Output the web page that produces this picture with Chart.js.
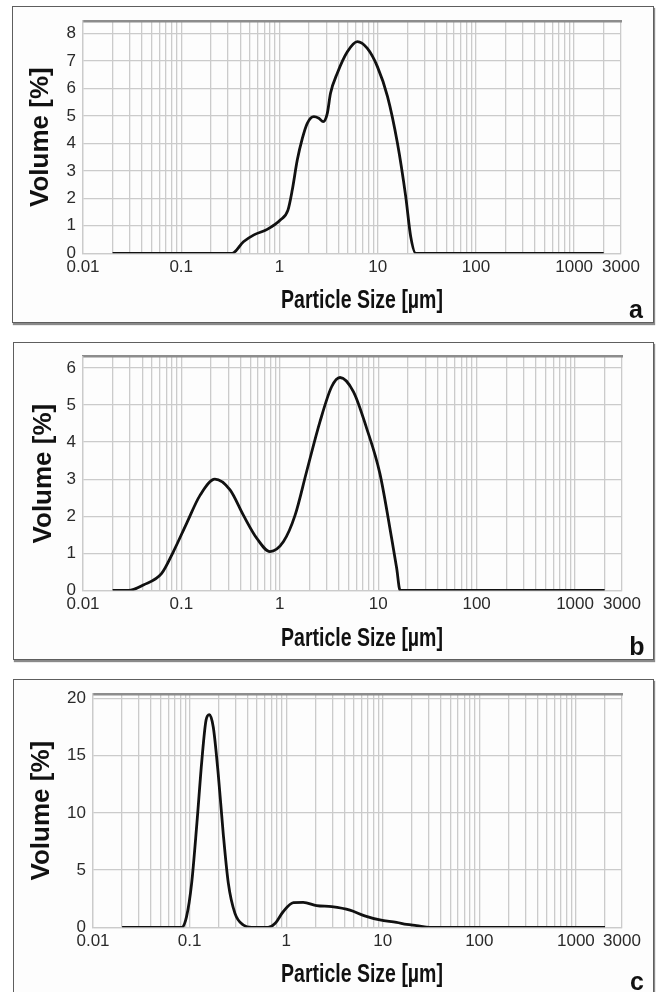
<!DOCTYPE html>
<html>
<head>
<meta charset="utf-8">
<script src="https://cdn.jsdelivr.net/npm/chart.js@4.4.1/dist/chart.umd.min.js"></script>
<style>
  html, body { margin: 0; padding: 0; background: #ffffff; }
  body { width: 660px; height: 992px; position: relative; overflow: hidden; }
  .panel { position: absolute; box-sizing: border-box; border: 1.5px solid #5e5e5e; box-shadow: 1px 2px 1px #8a8a8a; background: #fdfdfd; }
  canvas { position: absolute; left: 0; }
</style>
</head>
<body>
<div class="panel" style="left:12px; top:6px; width:642px; height:317px;"></div>
<div class="panel" style="left:13px; top:342px; width:641px; height:318px;"></div>
<div class="panel" style="left:13px; top:679px; width:641px; height:330px;"></div>
<canvas id="ca" width="660" height="330" style="top:0px;"></canvas>
<canvas id="cb" width="660" height="332" style="top:330px;"></canvas>
<canvas id="cc" width="660" height="330" style="top:662px;"></canvas>
<script>
// ---- Data ----
// Panel a
const sizesA = [0.02, 0.33, 0.43, 0.55, 0.75, 1.02, 1.22, 1.35, 1.52, 1.71, 1.92, 2.24, 2.52, 2.79, 3.07, 3.31, 3.88, 4.91, 6.21, 7.85, 9.93, 12.6, 15.9, 19.3, 21.7, 24.4, 2000];
const volA   = [0,    0,    0.42, 0.67, 0.87, 1.21, 1.57, 2.30, 3.40, 4.18, 4.73, 4.97, 4.91, 4.79, 5.09, 5.82, 6.55, 7.33, 7.70, 7.45, 6.79, 5.70, 4.00, 2.06, 0.60, 0,    0];
// Panel b
const sizesB = [0.02, 0.029, 0.041, 0.063, 0.083, 0.113, 0.155, 0.219, 0.312, 0.426, 0.582, 0.794, 1.09, 1.43, 1.87, 2.56, 3.36, 4.09, 5.59, 7.63, 10.4, 13.7, 15.4, 16.7, 2000];
const volB   = [0,    0,     0.15,  0.46,  1.05,  1.81,  2.57,  3.00,  2.71,  2.03,  1.41,  1.05,  1.32, 2.03, 3.20, 4.55, 5.49, 5.74, 5.36, 4.37, 3.15, 1.40, 0.60, 0,    0];
// Panel c
const sizesC = [0.02, 0.083, 0.093, 0.105, 0.119, 0.134, 0.148, 0.160, 0.176, 0.198, 0.223, 0.252, 0.295, 0.36, 0.44, 0.65, 0.77, 0.93, 1.19, 1.50, 2.07, 2.96, 4.57, 6.5, 9.35, 13.9, 17.7, 22.4, 30.8, 2000];
const volC   = [0,    0,     0.93,  3.84,  9.08,  14.6,  18.1,  18.6,  17.5,  13.4,  8.2,   3.84,  1.22,  0.20, 0,    0,    0.35, 1.36, 2.15, 2.18, 1.90, 1.80, 1.50, 1.00, 0.64, 0.43, 0.25, 0.15, 0,    0];

// Axis tick labels
const xTickLabels = ['0.01', '0.1', '1', '10', '100', '1000', '3000'];
const yTicksA = [0, 1, 2, 3, 4, 5, 6, 7, 8];
const yTicksB = [0, 1, 2, 3, 4, 5, 6];
const yTicksC = [0, 5, 10, 15, 20];
const xTitle = 'Particle Size [µm]';
const yTitle = 'Volume [%]';
const panelLetters = ['a', 'b', 'c'];

// log grid: 1..9 x 10^k from 0.01 to 3000
const xGridValues = [];
for (let e = -2; e <= 3; e++) {
  for (let m = 1; m <= 9; m++) {
    const v = parseFloat((m * Math.pow(10, e)).toPrecision(3));
    if (v <= 3000) xGridValues.push(v);
  }
}
const xLabelNums = xTickLabels.map(parseFloat);

const SANS = '"Liberation Sans", Arial, sans-serif';
const GRID = '#cbcbcb';

// x-axis title (condensed bold, as in the reference) and panel letter
const annot = {
  id: 'annot',
  afterDraw(chart, args, o) {
    const ctx = chart.ctx;
    ctx.save();
    ctx.fillStyle = '#111';
    ctx.textAlign = 'center';
    ctx.textBaseline = 'alphabetic';
    ctx.translate(o.xTitleX, o.xTitleY);
    ctx.scale(0.78, 1);
    ctx.font = 'bold 25px ' + SANS;
    ctx.fillText(xTitle, 0, 0);
    ctx.restore();
    ctx.save();
    ctx.fillStyle = '#111';
    ctx.textAlign = 'center';
    ctx.textBaseline = 'alphabetic';
    ctx.font = 'bold 25px ' + SANS;
    ctx.fillText(o.letter, o.letterX, o.letterY);
    ctx.restore();
  }
};

function makeChart(id, sizes, vols, yTicks, p) {
  const pts = sizes.map((s, i) => ({ x: s, y: vols[i] }));
  return new Chart(document.getElementById(id), {
    type: 'line',
    data: { datasets: [{ data: pts, borderColor: '#111', borderWidth: 2.8, pointRadius: 0, fill: false, cubicInterpolationMode: 'monotone' }] },
    options: {
      responsive: false,
      animation: false,
      devicePixelRatio: 1,
      layout: { padding: { left: 0, right: p.padRight, top: p.padTop, bottom: 0 } },
      plugins: { legend: { display: false }, tooltip: { enabled: false }, annot: p.annot },
      scales: {
        x: {
          type: 'logarithmic', position: 'bottom', min: 0.01, max: 3000,
          afterBuildTicks: (s) => { s.ticks = xGridValues.map(v => ({ value: v })); },
          afterFit: (s) => { s.height = p.xHeight; },
          grid: { color: GRID, lineWidth: 1.3, drawTicks: false },
          border: { color: GRID, width: 1.3 },
          ticks: {
            autoSkip: false, maxRotation: 0, minRotation: 0, padding: 4,
            color: '#2a2a2a', font: { family: SANS, size: 17 },
            callback: (v) => {
              const k = xLabelNums.findIndex(t => Math.abs(Math.log10(t) - Math.log10(v)) < 1e-6);
              return k >= 0 ? xTickLabels[k] : '';
            }
          }
        },
        x2: {
          type: 'linear', position: 'top', display: true, min: 0, max: 1,
          afterFit: (s) => { s.height = 0; },
          grid: { display: false, drawTicks: false },
          ticks: { display: false },
          border: { display: true, color: '#8c8c8c', width: 2.5 }
        },
        y: {
          type: 'linear', position: 'left', min: 0, max: p.yMax,
          afterBuildTicks: (s) => { s.ticks = yTicks.map(v => ({ value: v })); },
          afterFit: (s) => { s.width = p.yWidth; },
          grid: { color: GRID, lineWidth: 1.3, drawTicks: false },
          border: { color: GRID, width: 1.3 },
          ticks: { padding: 7, color: '#2a2a2a', font: { family: SANS, size: 17 } },
          title: { display: true, text: yTitle, color: '#111', font: { family: SANS, size: 26, weight: 'bold' }, padding: { top: p.yTitlePad, bottom: 0 } }
        }
      }
    },
    plugins: [annot]
  });
}

makeChart('ca', sizesA, volA, yTicksA, {
  yMax: 8.45, padTop: 21, padRight: 39, yWidth: 83, xHeight: 76.7, yTitlePad: 25.4,
  annot: { xTitleX: 362, xTitleY: 308, letter: panelLetters[0], letterX: 636, letterY: 318 }
});
makeChart('cb', sizesB, volB, yTicksB, {
  yMax: 6.3, padTop: 26.7, padRight: 38, yWidth: 83, xHeight: 71.5, yTitlePad: 28.4,
  annot: { xTitleX: 362, xTitleY: 316, letter: panelLetters[1], letterX: 637, letterY: 325 }
});
makeChart('cc', sizesC, volC, yTicksC, {
  yMax: 20.4, padTop: 32, padRight: 38, yWidth: 93, xHeight: 64.7, yTitlePad: 26.4,
  annot: { xTitleX: 362, xTitleY: 320, letter: panelLetters[2], letterX: 637, letterY: 328 }
});
</script>
</body>
</html>
